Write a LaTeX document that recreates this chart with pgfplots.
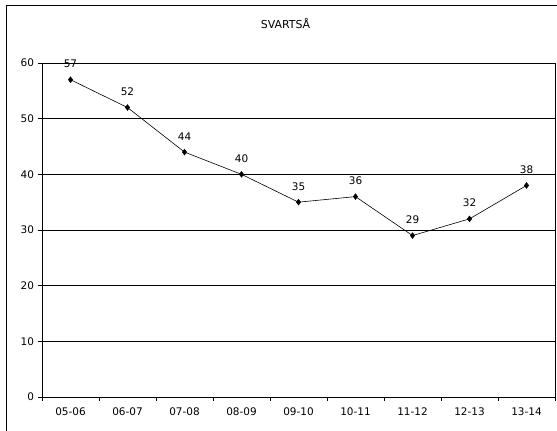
\documentclass[border=0pt]{standalone}
\usepackage{fontspec}
\setmainfont{DejaVu Sans}
\usepackage{pgfplots}
\pgfplotsset{compat=1.18}
\begin{document}
\begin{tikzpicture}[x=1bp,y=1bp]
\path[use as bounding box] (0,0) rectangle (557,430);
\draw[black,line width=0.8bp] (6.5,-5) -- (6.5,425) -- (565,425);
\node[font=\fontsize{11}{13}\selectfont, anchor=base, inner sep=0pt] at (285.5,401) {SVARTSÅ};
\begin{axis}[
  at={(42bp,33bp)}, anchor=south west,
  scale only axis, width=513bp, height=334bp,
  xmin=-0.5, xmax=8.5, ymin=0, ymax=60,
  xtick={0,...,8},
  xticklabels={05-06,06-07,07-08,08-09,09-10,10-11,11-12,12-13,13-14},
  major x tick style={draw=none},
  minor xtick={-0.5,0.5,...,8.5},
  minor x tick style={black, line width=0.6bp},
  ytick={0,10,...,60},
  tick align=outside, major tick length=4.5bp, minor tick length=4bp,
  xtick pos=bottom, ytick pos=left,
  ymajorgrids, grid style={black, line width=0.6bp},
  axis line style={black, line width=0.8bp},
  ytick style={black, line width=0.6bp},
  tick label style={font=\fontsize{10.5}{12}\selectfont},
  /pgf/number format/assume math mode=true,
  xticklabel style={yshift=-3bp},
  nodes near coords,
  nodes near coords style={font=\fontsize{10.5}{12}\selectfont, anchor=base, yshift=12bp},
  clip=false,
]
\addplot[black, line width=0.6bp, mark=diamond*, mark size=2.8bp, mark options={fill=black}] coordinates {
(0,57) (1,52) (2,44) (3,40) (4,35) (5,36) (6,29) (7,32) (8,38)
};
\end{axis}
\end{tikzpicture}
\end{document}
